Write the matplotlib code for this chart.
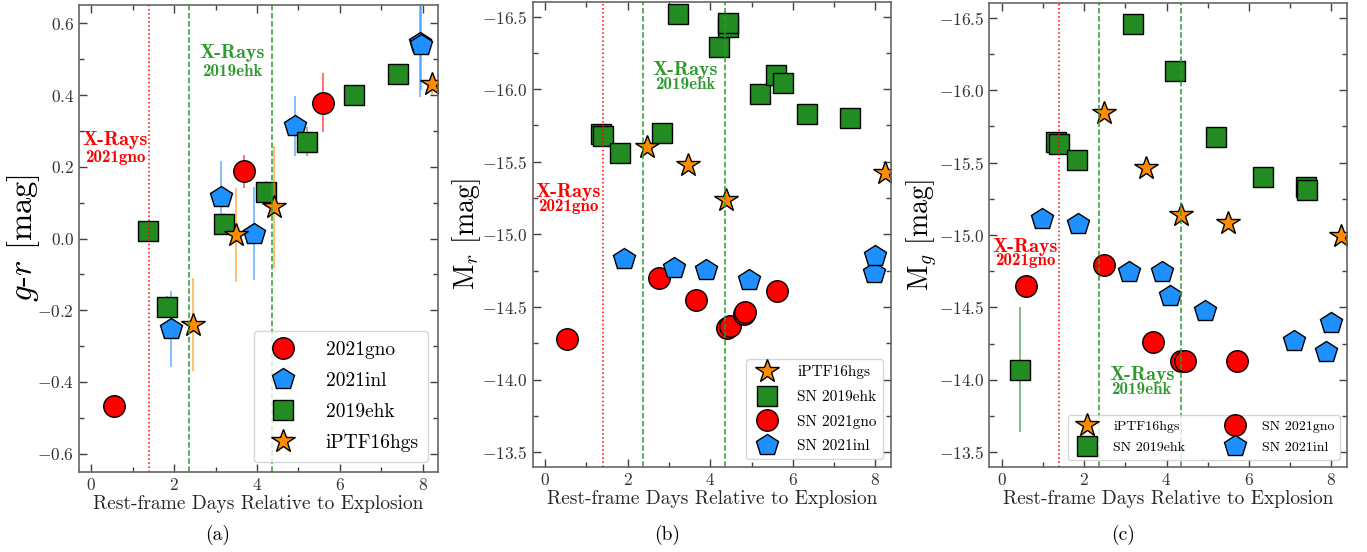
import numpy as np
import matplotlib
matplotlib.use('Agg')
import matplotlib.pyplot as plt
from matplotlib.ticker import MultipleLocator

plt.rcParams['font.family'] = 'serif'
plt.rcParams['font.serif'] = ['cmr10']
plt.rcParams['mathtext.fontset'] = 'cm'
plt.rcParams['axes.formatter.use_mathtext'] = True

# colours / markers per object
c_gno, c_inl, c_ehk, c_hgs = 'red', '#1E90FF', '#228B22', '#FF8C00'

# x-ray epochs (rest-frame days)
xray_gno = [1.39]
xray_ehk = [2.36, 4.36]

# ---- panel (a): g-r colour
gr_gno_t = [0.55, 3.68, 5.60]
gr_gno = [-0.468, 0.187, 0.379]
gr_gno_err = [0.02, 0.046, 0.083]

gr_inl_t = [1.93, 3.12, 3.93, 4.91, 7.94, 7.97]
gr_inl = [-0.252, 0.115, 0.013, 0.314, 0.545, 0.540]
gr_inl_err = [0.105, 0.10, 0.13, 0.083, 0.15, 0.125]

gr_ehk_t = [1.37, 1.83, 3.21, 4.22, 5.20, 6.34, 7.41]
gr_ehk = [0.02, -0.19, 0.04, 0.131, 0.27, 0.40, 0.459]
gr_ehk_err = [0.02, 0.03, 0.03, 0.03, 0.04, 0.02, 0.02]

gr_hgs_t = [2.46, 3.48, 4.40, 8.23]
gr_hgs = [-0.24, 0.01, 0.089, 0.43]
gr_hgs_err = [0.13, 0.13, 0.17, 0.03]

# ---- panel (b): M_r
r_hgs_t = [2.46, 3.45, 4.38, 8.24]
r_hgs = [-15.605, -15.475, -15.24, -15.42]
r_ehk_t = [1.36, 1.41, 1.82, 2.82, 3.22, 4.20, 4.42, 4.42, 5.21, 5.60, 5.75, 6.34, 7.39]
r_ehk = [-15.69, -15.68, -15.56, -15.70, -16.52, -16.29, -16.43, -16.455,
         -15.97, -16.10, -16.04, -15.83, -15.80]
r_gno_t = [0.53, 2.77, 3.66, 4.40, 4.47, 4.81, 4.83, 5.62]
r_gno = [-14.28, -14.70, -14.545, -14.355, -14.366, -14.45, -14.465, -14.607]
r_inl_t = [1.90, 3.11, 3.90, 4.93, 7.96, 8.00]
r_inl = [-14.83, -14.77, -14.757, -14.683, -14.734, -14.85]

# ---- panel (c): M_g
g_hgs_t = [2.48, 3.49, 4.34, 5.49, 8.24]
g_hgs = [-15.845, -15.461, -15.14, -15.086, -14.994]
g_ehk_t = [0.44, 1.33, 1.40, 1.82, 3.19, 4.20, 5.20, 6.33, 7.38, 7.40]
g_ehk = [-14.07, -15.64, -15.63, -15.52, -16.454, -16.134, -15.68, -15.403, -15.335, -15.31]
g_ehk_err = [0.43, 0.02, 0.02, 0.02, 0.02, 0.02, 0.02, 0.02, 0.02, 0.02]
g_gno_t = [0.59, 2.48, 3.66, 4.36, 4.44, 5.70]
g_gno = [-14.65, -14.79, -14.259, -14.128, -14.128, -14.128]
g_inl_t = [0.97, 1.86, 3.09, 3.88, 4.08, 4.93, 7.09, 7.88, 7.98]
g_inl = [-15.109, -15.075, -14.748, -14.748, -14.576, -14.472, -14.27, -14.19, -14.39]

# marker sizes (pt)
MS_O, MS_P, MS_S, MS_STAR = 15.5, 16.5, 14, 17.5
mk = dict(markeredgecolor='black', markeredgewidth=1.0, linestyle='none')
GREEN_TXT = '#2E9A2E'


def style_axes(ax, ymaj, ymin):
    ax.set_xlim(-0.3, 8.37)
    ax.xaxis.set_major_locator(MultipleLocator(2))
    ax.xaxis.set_minor_locator(MultipleLocator(1))
    ax.yaxis.set_major_locator(MultipleLocator(ymaj))
    ax.yaxis.set_minor_locator(MultipleLocator(ymin))
    ax.tick_params(which='both', direction='in', top=True, right=True,
                   colors='0.25', labelcolor='0.2', labelsize=12.5)
    ax.tick_params(which='major', length=6, width=1)
    ax.tick_params(which='minor', length=3.5, width=1)
    for s in ax.spines.values():
        s.set_color('0.4')
        s.set_linewidth(1.2)
    ax.set_xlabel('Rest-frame Days Relative to Explosion', fontsize=14, color='0.15', labelpad=2)
    for xv in xray_gno:
        ax.axvline(xv, color='red', linestyle=':', linewidth=1.1)
    for xv in xray_ehk:
        ax.axvline(xv, color=GREEN_TXT, linestyle='--', linewidth=1.1)


def xray_text(ax, x, y1, y2, color, name):
    ax.text(x, y1, 'X-Rays', color=color, fontfamily='cmb10', fontsize=14.5,
            ha='center', va='center')
    ax.text(x, y2, name, color=color, fontfamily='cmb10', fontsize=12.3,
            ha='center', va='center')


fig = plt.figure(figsize=(13.67, 5.52), dpi=100)
ax1 = fig.add_axes([0.0578, 0.1455, 0.2626, 0.8455])
ax2 = fig.add_axes([0.3897, 0.1545, 0.2619, 0.8418])
ax3 = fig.add_axes([0.7237, 0.1545, 0.2614, 0.8395])

# ---------- (a)
eb = dict(fmt='none', elinewidth=1.3, alpha=0.6, capsize=0)
ax1.errorbar(gr_gno_t, gr_gno, yerr=gr_gno_err, ecolor=c_gno, **eb)
ax1.plot(gr_gno_t, gr_gno, marker='o', markersize=MS_O, color=c_gno, label='2021gno', **mk)
ax1.errorbar(gr_inl_t, gr_inl, yerr=gr_inl_err, ecolor=c_inl, **eb)
ax1.plot(gr_inl_t, gr_inl, marker='p', markersize=MS_P, color=c_inl, label='2021inl', **mk)
ax1.errorbar(gr_ehk_t, gr_ehk, yerr=gr_ehk_err, ecolor=c_ehk, **eb)
ax1.plot(gr_ehk_t, gr_ehk, marker='s', markersize=MS_S, color=c_ehk, label='2019ehk', **mk)
ax1.errorbar(gr_hgs_t, gr_hgs, yerr=gr_hgs_err, ecolor=c_hgs, **eb)
ax1.plot(gr_hgs_t, gr_hgs, marker='*', markersize=MS_STAR, color=c_hgs, label='iPTF16hgs', **mk)
style_axes(ax1, 0.2, 0.1)
ax1.set_ylim(-0.65, 0.651)
ax1.set_ylabel('$g$-$r$ [mag]', fontsize=23.5)
ax1.yaxis.set_label_coords(-0.103, 0.5)
xray_text(ax1, 0.57, 0.275, 0.226, 'red', '2021gno')
xray_text(ax1, 3.4, 0.516, 0.465, GREEN_TXT, '2019ehk')
ax1.legend(loc='lower right', fontsize=14, labelspacing=0.68, handletextpad=1.2, borderpad=0.5)

# ---------- (b)
ax2.plot(r_hgs_t, r_hgs, marker='*', markersize=MS_STAR, color=c_hgs, label='iPTF16hgs', **mk)
ax2.plot(r_ehk_t, r_ehk, marker='s', markersize=MS_S + 0.5, color=c_ehk, label='SN 2019ehk', **mk)
ax2.plot(r_gno_t, r_gno, marker='o', markersize=MS_O, color=c_gno, label='SN 2021gno', **mk)
ax2.plot(r_inl_t, r_inl, marker='p', markersize=MS_P, color=c_inl, label='SN 2021inl', **mk)
style_axes(ax2, 0.5, 0.25)
ax2.set_ylim(-13.4, -16.6)
ax2.set_ylabel('M$_r$ [mag]', fontsize=20)
ax2.yaxis.set_label_coords(-0.139, 0.5)
xray_text(ax2, 0.56, -15.29, -15.19, 'red', '2021gno')
xray_text(ax2, 3.4, -16.133, -16.035, GREEN_TXT, '2019ehk')
ax2.legend(loc='lower right', fontsize=11, labelspacing=0.7, handletextpad=1.0)

# ---------- (c)
ax3.errorbar(g_ehk_t, g_ehk, yerr=g_ehk_err, ecolor=c_ehk, **eb)
ax3.plot(g_hgs_t, g_hgs, marker='*', markersize=MS_STAR, color=c_hgs, label='iPTF16hgs', **mk)
ax3.plot(g_ehk_t, g_ehk, marker='s', markersize=MS_S, color=c_ehk, label='SN 2019ehk', **mk)
ax3.plot(g_gno_t, g_gno, marker='o', markersize=MS_O, color=c_gno, label='SN 2021gno', **mk)
ax3.plot(g_inl_t, g_inl, marker='p', markersize=MS_P, color=c_inl, label='SN 2021inl', **mk)
style_axes(ax3, 0.5, 0.25)
ax3.set_ylim(-13.4, -16.6)
ax3.set_ylabel('M$_g$ [mag]', fontsize=20)
ax3.yaxis.set_label_coords(-0.138, 0.5)
xray_text(ax3, 0.58, -14.92, -14.822, 'red', '2021gno')
xray_text(ax3, 3.4, -14.036, -13.933, GREEN_TXT, '2019ehk')
ax3.legend(loc='lower right', fontsize=10, ncol=2, columnspacing=2.6,
           labelspacing=0.6, handletextpad=0.9)

for xc, lab in [(0.1595, '(a)'), (0.488, '(b)'), (0.8215, '(c)')]:
    fig.text(xc, 0.031, lab, ha='center', va='center', fontsize=14)

fig.savefig('out.png', dpi=100)
